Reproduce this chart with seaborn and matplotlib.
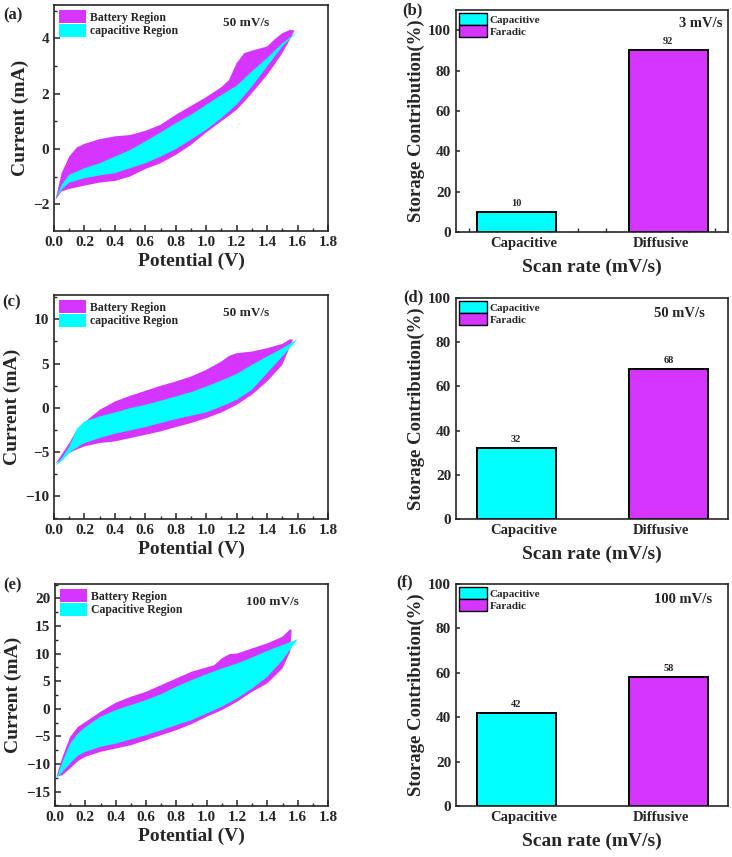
import numpy as np
import matplotlib
matplotlib.use("Agg")
import matplotlib.pyplot as plt
from matplotlib.patches import Patch
from matplotlib.ticker import MultipleLocator, FixedLocator
import seaborn as sns

# ---- CV data (potential V, current mA): anodic (up) and cathodic (lo) branches ----
a_bat_v = [0.01, 0.05, 0.1, 0.15, 0.2, 0.3, 0.4, 0.5, 0.6, 0.7, 0.8, 0.9, 1.0, 1.1, 1.15, 1.2, 1.25, 1.3, 1.4, 1.45, 1.5, 1.55, 1.58]
a_bat_up = [-1.84, -0.88, -0.28, 0.05, 0.18, 0.35, 0.45, 0.5, 0.65, 0.87, 1.23, 1.55, 1.87, 2.23, 2.49, 3.1, 3.46, 3.55, 3.7, 3.96, 4.18, 4.3, 4.28]
a_bat_lo = [-1.84, -1.54, -1.45, -1.39, -1.33, -1.22, -1.16, -1.0, -0.73, -0.52, -0.22, 0.14, 0.59, 1.0, 1.2, 1.41, 1.7, 2.01, 2.67, 3.05, 3.46, 3.95, 4.28]
a_cap_v = [0.01, 0.05, 0.1, 0.2, 0.3, 0.4, 0.5, 0.6, 0.7, 0.8, 0.9, 1.0, 1.1, 1.2, 1.3, 1.4, 1.5, 1.6]
a_cap_up = [-1.8, -1.3, -0.94, -0.7, -0.52, -0.28, -0.04, 0.27, 0.59, 0.93, 1.23, 1.59, 1.95, 2.28, 2.8, 3.28, 3.82, 4.24]
a_cap_lo = [-1.8, -1.48, -1.22, -1.06, -0.96, -0.88, -0.7, -0.52, -0.28, -0.01, 0.33, 0.69, 1.11, 1.6, 2.25, 2.98, 3.7, 4.24]

c_bat_v = [0.01, 0.05, 0.1, 0.15, 0.2, 0.3, 0.4, 0.5, 0.6, 0.7, 0.8, 0.9, 1.0, 1.1, 1.15, 1.2, 1.3, 1.4, 1.5, 1.55, 1.57]
c_bat_up = [-6.3, -5.3, -4.0, -2.5, -1.65, -0.23, 0.71, 1.35, 1.92, 2.48, 2.97, 3.53, 4.29, 5.23, 5.86, 6.17, 6.35, 6.73, 7.22, 7.74, 7.7]
c_bat_lo = [-6.3, -5.86, -5.1, -4.7, -4.36, -3.98, -3.8, -3.42, -3.05, -2.67, -2.18, -1.73, -1.17, -0.53, -0.1, 0.34, 1.47, 2.97, 4.85, 6.9, 7.7]
c_cap_v = [0.01, 0.05, 0.1, 0.15, 0.2, 0.3, 0.4, 0.5, 0.6, 0.7, 0.8, 0.9, 1.0, 1.1, 1.2, 1.3, 1.4, 1.5, 1.6]
c_cap_up = [-6.5, -5.7, -4.4, -2.4, -1.54, -0.98, -0.53, -0.04, 0.34, 0.79, 1.28, 1.77, 2.4, 3.08, 3.83, 4.85, 5.79, 6.73, 7.74]
c_cap_lo = [-6.5, -6.05, -5.1, -4.5, -3.98, -3.42, -2.93, -2.56, -2.18, -1.73, -1.28, -0.9, -0.53, 0.15, 0.9, 2.03, 3.91, 5.79, 7.74]

e_bat_v = [0.01, 0.05, 0.1, 0.15, 0.2, 0.3, 0.4, 0.5, 0.6, 0.7, 0.8, 0.9, 1.0, 1.05, 1.1, 1.15, 1.2, 1.3, 1.4, 1.5, 1.55, 1.56]
e_bat_up = [-12.3, -8.7, -5.1, -3.3, -2.4, -0.54, 1.09, 2.18, 3.08, 4.29, 5.5, 6.71, 7.5, 7.9, 9.13, 9.9, 10.0, 10.94, 11.85, 13.06, 14.4, 14.2]
e_bat_lo = [-12.3, -12.0, -10.8, -9.5, -8.7, -7.8, -7.2, -6.6, -5.7, -4.78, -3.87, -2.78, -1.45, -0.85, -0.24, 0.5, 1.27, 3.08, 4.6, 7.3, 10.3, 14.2]
e_cap_v = [0.01, 0.05, 0.1, 0.15, 0.2, 0.3, 0.4, 0.5, 0.6, 0.7, 0.8, 0.9, 1.0, 1.1, 1.2, 1.3, 1.4, 1.5, 1.6]
e_cap_up = [-12.6, -9.6, -6.3, -4.5, -3.3, -1.45, -0.24, 0.67, 1.57, 2.66, 4.0, 5.2, 6.29, 7.3, 8.2, 9.3, 10.5, 11.55, 12.6]
e_cap_lo = [-12.6, -11.4, -9.9, -8.5, -7.8, -6.9, -6.3, -5.56, -4.78, -3.87, -2.96, -2.06, -0.85, 0.36, 1.87, 3.69, 5.8, 8.8, 12.6]

# ---- bar data ----
bar_cats = ["Capacitive", "Diffusive"]
b_vals = [10, 90]
b_labels = ["10", "92"]
d_vals = [32, 68]
d_labels = ["32", "68"]
f_vals = [42, 58]
f_labels = ["42", "58"]

CYAN = "#00FFFF"
MAGENTA = "#D535FF"

sns.set_theme(style="ticks")
plt.rcParams["font.family"] = ["Liberation Serif", "DejaVu Serif"]
plt.rcParams["font.weight"] = "bold"
plt.rcParams["axes.labelweight"] = "bold"
plt.rcParams["axes.linewidth"] = 1.2
plt.rcParams["xtick.direction"] = "in"
plt.rcParams["ytick.direction"] = "in"


def cv_panel(ax, bat, cap, ylim, ymaj, ymin, cap_name, rate, rate_x):
    for (v, up, lo), col in [(bat, MAGENTA), (cap, CYAN)]:
        v = np.asarray(v)
        ax.fill(np.r_[v, v[::-1]], np.r_[up, lo[::-1]], color=col, lw=0)
    ax.set_xlim(0, 1.8)
    ax.set_ylim(*ylim)
    ax.xaxis.set_major_locator(MultipleLocator(0.2))
    ax.xaxis.set_minor_locator(MultipleLocator(0.1))
    ax.yaxis.set_major_locator(MultipleLocator(ymaj))
    ax.yaxis.set_minor_locator(MultipleLocator(ymin))
    ax.xaxis.set_major_formatter(matplotlib.ticker.FormatStrFormatter("%.1f"))
    ax.tick_params(which="major", length=4, width=1.1, labelsize=11)
    ax.tick_params(which="minor", length=2.5, width=1.0)
    ax.set_xlabel("Potential (V)", fontsize=14, labelpad=3)
    ax.set_ylabel("Current (mA)", fontsize=14, labelpad=3)
    handles = [Patch(facecolor=MAGENTA, edgecolor="none"), Patch(facecolor=CYAN, edgecolor="none")]
    ax.legend(handles, ["Battery Region", cap_name], loc="upper left", frameon=False,
              prop={"size": 8.5, "weight": "bold"}, handlelength=2.3, handleheight=1.3,
              labelspacing=0.0, handletextpad=0.3, borderaxespad=0.25, borderpad=0.2)
    ax.text(rate_x, 0.92, rate, transform=ax.transAxes, ha="center", va="center",
            fontsize=9.5, fontweight="bold")


def bar_panel(ax, vals, labels, rate, rate_xy, ha, ymax, minor):
    sns.barplot(x=bar_cats, y=vals, hue=bar_cats, palette=[CYAN, MAGENTA], saturation=1,
                width=0.52, edgecolor="black", linewidth=1.4, legend=False, ax=ax)
    for cont, lab in zip(ax.containers, labels):
        ax.bar_label(cont, labels=[lab], padding=3, fontsize=7.5, fontweight="bold")
    ax.set_xlim(-0.396, 1.392)
    ax.set_ylim(0, ymax)
    ax.set_xticks([0.05, 0.95])
    ax.set_xticklabels(bar_cats)
    if minor:
        ax.xaxis.set_minor_locator(FixedLocator([0.05 + 0.1795 * k for k in range(-2, 8)]))
    ax.yaxis.set_major_locator(MultipleLocator(20))
    ax.tick_params(which="major", length=3, width=1.1, labelsize=11)
    ax.tick_params(axis="x", which="major", labelsize=10.5)
    ax.tick_params(which="minor", length=3, width=1.0)
    ax.set_xlabel("Scan rate (mV/s)", fontsize=14, labelpad=6)
    ax.set_ylabel("Storage Contribution(%)", fontsize=13.5, labelpad=2)
    handles = [Patch(facecolor=CYAN, edgecolor="black", lw=1), Patch(facecolor=MAGENTA, edgecolor="black", lw=1)]
    ax.legend(handles, ["Capacitive", "Faradic"], loc="upper left", frameon=False,
              prop={"size": 8, "weight": "bold"}, handlelength=2.5, handleheight=1.2,
              labelspacing=0.05, handletextpad=0.2, borderaxespad=0.2, borderpad=0.1)
    ax.text(rate_xy[0], rate_xy[1], rate, transform=ax.transAxes, ha=ha, va="center",
            fontsize=10.5, fontweight="bold")


W, H = 732, 857
fig = plt.figure(figsize=(W / 100, H / 100), dpi=100)


def box(l, r, t, b):
    return [l / W, 1 - b / H, (r - l) / W, (b - t) / H]


ax_a = fig.add_axes(box(54, 328, 5, 231))
ax_b = fig.add_axes(box(456, 728, 10, 232))
ax_c = fig.add_axes(box(54, 328, 295, 519))
ax_d = fig.add_axes(box(456, 728, 298, 519))
ax_e = fig.add_axes(box(55, 328, 584, 806))
ax_f = fig.add_axes(box(456, 728, 584, 806))

cv_panel(ax_a, (a_bat_v, a_bat_up, a_bat_lo), (a_cap_v, a_cap_up, a_cap_lo),
         (-2.97, 5.2), 2, 1, "capacitive Region", "50 mV/s", 0.70)
cv_panel(ax_c, (c_bat_v, c_bat_up, c_bat_lo), (c_cap_v, c_cap_up, c_cap_lo),
         (-12.56, 12.74), 5, 2.5, "capacitive Region", "50 mV/s", 0.70)
cv_panel(ax_e, (e_bat_v, e_bat_up, e_bat_lo), (e_cap_v, e_cap_up, e_cap_lo),
         (-17.6, 22.6), 5, 2.5, "Capacitive Region", "100 mV/s", 0.795)

bar_panel(ax_b, b_vals, b_labels, "3 mV/s", (0.98, 0.94), "right", 110, True)
bar_panel(ax_d, d_vals, d_labels, "50 mV/s", (0.82, 0.93), "center", 100, False)
bar_panel(ax_f, f_vals, f_labels, "100 mV/s", (0.835, 0.93), "center", 100, False)

for lab, x, y in [("(a)", 13, 15), ("(b)", 412, 10), ("(c)", 12, 302),
                  ("(d)", 413, 297), ("(e)", 13, 585), ("(f)", 405, 582)]:
    fig.text(x / W, 1 - y / H, lab, ha="center", va="center", fontsize=12, fontweight="bold")

fig.savefig("out.png", dpi=100)
